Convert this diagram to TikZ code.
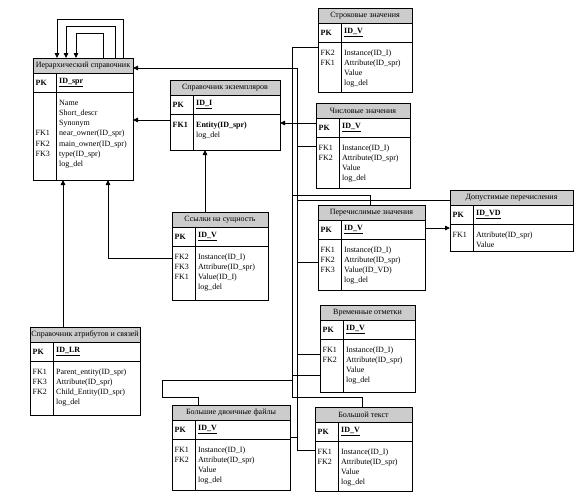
\documentclass[tikz,border=0pt]{standalone}
\usepackage{fontspec}
\setmainfont{Liberation Serif}
\usetikzlibrary{arrows.meta}
\definecolor{titlegray}{RGB}{204,204,204}
\newcommand{\fsz}{\fontsize{8}{10.2}\selectfont}
\tikzset{
  tblbox/.style={draw, line width=0.9pt, inner sep=0pt, outer sep=0pt},
  tblline/.style={line width=0.9pt},
  txt/.style={inner sep=0pt, font=\fsz},
  conn/.style={line width=0.8pt},
  arr/.style={conn, -{Triangle[length=5pt,width=4.5pt]}}
}
\newcommand{\ertable}[9]{%
  \fill[titlegray] (#2,#3) rectangle (#4,#3+15);
  \node[tblbox, minimum width={(#4-#2)*1pt}, minimum height={(#5-#3)*1pt}, anchor=north west] (#1) at (#2,#3) {};
  \draw[tblline] ([yshift=-15pt]#1.north west) -- ([yshift=-15pt]#1.north east);
  \draw[tblline] ([yshift=-34pt]#1.north west) -- ([yshift=-34pt]#1.north east);
  \draw[tblline] ([xshift=23pt,yshift=-15pt]#1.north west) -- ([xshift=23pt]#1.south west);
  \node[txt] (#1-title) at ([yshift=-7.5pt]#1.north) {#6};
  \node[txt,anchor=west,font=\fsz\bfseries] (#1-pkl) at ([xshift=2.5pt,yshift=-24.5pt]#1.north west) {PK};
  \node[txt,anchor=west,font=\fsz\bfseries] (#1-pkf) at ([xshift=26pt,yshift=-24.5pt]#1.north west) {\underline{#7}};
  \node[txt,anchor=north west] (#1-fk) at ([xshift=2.5pt,yshift=-40pt]#1.north west) {\begin{tabular}{@{}l@{}}#8\end{tabular}};
  \node[txt,anchor=north west] (#1-fd) at ([xshift=26pt,yshift=-40pt]#1.north west) {\begin{tabular}{@{}l@{}}#9\end{tabular}};
}
\begin{document}
\begin{tikzpicture}[x=1pt,y=-1pt]
\useasboundingbox (0,0) rectangle (577,493);

% tables
\ertable{hier}{33}{58}{133}{180}{Иерархический справочник}{ID\_spr}{\\ \\ \\FK1\\FK2\\FK3}{Name\\Short\_descr\\Synonym\\near\_owner(ID\_spr)\\main\_owner(ID\_spr)\\type(ID\_spr)\\log\_del}
\ertable{inst}{170}{80}{280}{150}{Справочник экземпляров}{ID\_I}{\textbf{FK1}}{\textbf{Entity(ID\_spr)}\\log\_del}
\ertable{str}{318}{8}{412}{92}{Строковые значения}{ID\_V}{FK2\\FK1}{Instance(ID\_I)\\Attribute(ID\_spr)\\Value\\log\_del}
\ertable{num}{316}{103}{410}{188}{Числовые значения}{ID\_V}{FK1\\FK2}{Instance(ID\_I)\\Attribute(ID\_spr)\\Value\\log\_del}
\ertable{refs}{172}{212}{268}{300}{Ссылки на сущность}{ID\_V}{FK2\\FK3\\FK1}{Instance(ID\_I)\\Attribure(ID\_spr)\\Value(ID\_I)\\log\_del}
\ertable{enum}{318}{205}{425}{290}{Перечислимые значения}{ID\_V}{FK1\\FK2\\FK3}{Instance(ID\_I)\\Attribute(ID\_spr)\\Value(ID\_VD)\\log\_del}
\ertable{dop}{450}{190}{573}{251}{Допустимые перечисления}{ID\_VD}{FK1}{Attribute(ID\_spr)\\Value}
\ertable{time}{320}{305}{415}{392}{Временные отметки}{ID\_V}{FK1\\FK2}{Instance(ID\_I)\\Attribute(ID\_spr)\\Value\\log\_del}
\ertable{attr}{30}{327}{140}{415}{Справочник атрибутов и связей}{ID\_LR}{FK1\\FK3\\FK2}{Parent\_entity(ID\_spr)\\Attribute(ID\_spr)\\Child\_Entity(ID\_spr)\\log\_del}
\ertable{blob}{172}{405}{290}{490}{Большие двоичные файлы}{ID\_V}{FK1\\FK2}{Instance(ID\_I)\\Attribute(ID\_spr)\\Value\\log\_del}
\ertable{btext}{315}{407}{412}{491}{Большой текст}{ID\_V}{FK1\\FK2}{Instance(ID\_I)\\Attribute(ID\_spr)\\Value\\log\_del}

% coordinates
\coordinate (o1) at (123,19); \coordinate (o2) at (57,19);
\coordinate (m1) at (115,26); \coordinate (m2) at (66,26);
\coordinate (i1) at (103,33); \coordinate (i2) at (76,33);
\coordinate (v1top) at (292,47); \coordinate (v1bot) at (292,397);
\coordinate (v2top) at (297,68); \coordinate (v2bot) at (297,450);
\coordinate (btk) at (362,397);
\coordinate (h1) at (150,120);
\coordinate (ce) at (300,123);
\coordinate (n1) at (297,146);
\coordinate (p1) at (292,195); \coordinate (p2) at (370,195);
\coordinate (q1) at (297,200);
\coordinate (r1) at (435,228);
\coordinate (e2) at (297,262);
\coordinate (t1) at (297,354); \coordinate (t2) at (292,375);
\coordinate (b0) at (292,380); \coordinate (b1) at (162,380);
\coordinate (b2) at (162,397); \coordinate (b3) at (198,397);
\coordinate (bl) at (297,437);
\coordinate (a1) at (63,250);
\coordinate (s1) at (108,258);
\coordinate (c1) at (205,180);

% self loops
\draw[arr] (o1 |- hier.north) -- (o1) -- (o2) -- (o2 |- hier.north);
\draw[arr] (m1 |- hier.north) -- (m1) -- (m2) -- (m2 |- hier.north);
\draw[arr] (i1 |- hier.north) -- (i1) -- (i2) -- (i2 |- hier.north);

% trunks
\draw[conn] (v1top -| str.west) -- (v1top) -- (v1bot) -- (btk) -- (btk |- btext.north);
\draw[arr] (v2bot -| btext.west) -- (v2bot) -- (v2top) -- (v2top -| hier.east);

\draw[arr] (h1 -| inst.west) -- (h1 -| hier.east);
\draw[arr] (ce -| num.west) -- (ce -| inst.east);
\draw[conn] (n1) -- (n1 -| num.west);
\draw[conn] (p1) -- (p2) -- (p2 |- enum.north);
\draw[conn] (q1) -- (q1 -| dop.west);
\draw[arr] (r1 -| enum.east) -- (r1 -| dop.west);
\draw[conn] (e2) -- (e2 -| enum.west);
\draw[conn] (t1) -- (t1 -| time.west);
\draw[conn] (t2) -- (t2 -| time.west);
\draw[conn] (b0) -- (b1) -- (b2) -- (b3) -- (b3 |- blob.north);
\draw[conn] (bl -| blob.east) -- (bl);
\draw[arr] (a1 |- attr.north) -- (a1 |- hier.south);
\draw[arr] (s1 -| refs.west) -- (s1) -- (s1 |- hier.south);
\draw[arr] (c1 |- refs.north) -- (c1 |- inst.south);
\end{tikzpicture}
\end{document}
